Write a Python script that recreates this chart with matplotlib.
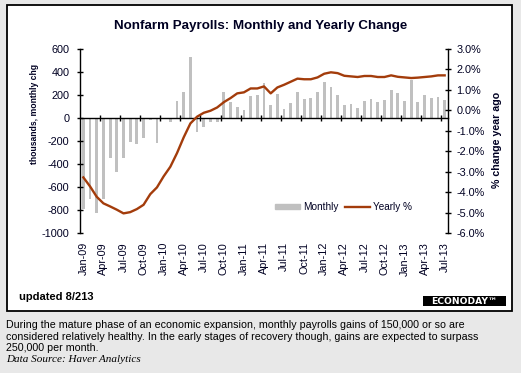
"""
Nonfarm payrolls: monthly change (bars) and yearly % change (line).
"""

import numpy as np
import matplotlib
matplotlib.use("Agg")
import matplotlib.pyplot as plt
from matplotlib.patches import Rectangle, Patch
from matplotlib.lines import Line2D
from matplotlib.ticker import FuncFormatter

plt.rcParams['font.family'] = ['Liberation Sans', 'DejaVu Sans']
plt.rcParams['axes.unicode_minus'] = False

# monthly change, thousands (Jan-09 .. Jul-13)
monthly = [-790, -700, -830, -700, -350, -470, -350, -210, -230, -170, -20, -220,
           -10, -35, 150, 229, 528, -125, -81, -38, -38, 229, 142, 99,
           73, 194, 203, 304, 116, 212, 81, 133, 229, 168, 177, 229,
           316, 273, 203, 116, 125, 90, 151, 168, 142, 160, 247, 220,
           151, 333, 142, 203, 174, 186, 160]

# % change year ago
yearly = [-3.28, -3.72, -4.23, -4.55, -4.70, -4.86, -5.04, -4.98, -4.83, -4.62, -4.10, -3.77,
          -3.23, -2.76, -2.09, -1.32, -0.64, -0.31, -0.12, -0.02, 0.14, 0.40, 0.60, 0.83,
          0.88, 1.07, 1.07, 1.17, 0.83, 1.12, 1.25, 1.40, 1.55, 1.52, 1.52, 1.61,
          1.79, 1.86, 1.82, 1.69, 1.66, 1.63, 1.68, 1.68, 1.63, 1.63, 1.71, 1.64,
          1.61, 1.58, 1.60, 1.63, 1.66, 1.71, 1.71]

tick_labels = ['Jan-09', 'Apr-09', 'Jul-09', 'Oct-09', 'Jan-10', 'Apr-10', 'Jul-10',
               'Oct-10', 'Jan-11', 'Apr-11', 'Jul-11', 'Oct-11', 'Jan-12', 'Apr-12',
               'Jul-12', 'Oct-12', 'Jan-13', 'Apr-13', 'Jul-13']

footnote = ["During the mature phase of an economic expansion, monthly payrolls gains of 150,000 or so are",
            "considered relatively healthy. In the early stages of recovery though, gains are expected to surpass",
            "250,000 per month."]

bar_color = '#c0c0c0'
line_color = '#a33c0b'
txt = '#000022'
W, H = 521, 373

fig = plt.figure(figsize=(W / 100, H / 100), dpi=100, facecolor='#e8e8e8')

# white chart panel with black frame
fig.add_artist(Rectangle((7 / W, 62 / H), 505 / W, 306 / H, transform=fig.transFigure,
                         facecolor='white', edgecolor='black', lw=1.3, zorder=-1))

ax = fig.add_axes([80 / W, 140 / H, 368 / W, 184 / H])
ax.set_facecolor('none')
x = np.arange(len(monthly))
ax.bar(x, monthly, width=0.42, color=bar_color, zorder=1)
ax.set_xlim(-0.5, len(monthly) - 0.5)
ax.set_ylim(-1000, 600)
ax.set_yticks(range(-1000, 601, 200))
for s in ['top', 'bottom', 'right']:
    ax.spines[s].set_visible(False)
ax.spines['left'].set_linewidth(1)
ax.set_xticks(x[::3], tick_labels, rotation=90)
ax.tick_params(axis='x', length=0, pad=6.5, labelsize=7.8, labelcolor=txt)
ax.tick_params(axis='y', direction='inout', length=4.8, width=1, pad=5.3,
               labelsize=7.8, labelcolor=txt)
ax.set_ylabel('thousands, monthly chg', fontweight='bold', fontsize=6.2, color=txt,
              family=['Liberation Sans Narrow', 'Liberation Sans'])
ax.yaxis.set_label_coords(-0.112, 0.647)

# zero line with quarter ticks
zero = ax.secondary_xaxis(1000 / 1600)
zero.set_xticks(np.arange(2.5, len(monthly) - 1, 3))
zero.tick_params(direction='inout', length=4.8, width=1, labeltop=False, labelbottom=False)
zero.spines['top'].set_linewidth(1)
zero.set_zorder(3)

ax2 = ax.twinx()
ax2.plot(x, yearly, color=line_color, lw=1.7, solid_joinstyle='round')
ax2.set_ylim(-6, 3)
ax2.set_yticks(np.arange(-6, 3.01, 1))
ax2.yaxis.set_major_formatter(FuncFormatter(lambda v, p: f'{v:.1f}%'))
for s in ['top', 'bottom', 'left']:
    ax2.spines[s].set_visible(False)
ax2.spines['right'].set_linewidth(1)
ax2.tick_params(axis='y', direction='inout', length=4.8, width=1, pad=3.8,
                labelsize=7.8, labelcolor=txt)
ax2.set_ylabel('% change year ago', fontweight='bold', fontsize=7.7, color=txt)
ax2.yaxis.set_label_coords(1.119, 0.505)

handles = [Patch(color=bar_color), Line2D([], [], color=line_color, lw=1.7)]
ax2.legend(handles, ['Monthly', 'Yearly %'], ncol=2, frameon=False, loc='center left',
           bbox_to_anchor=(0.530, 0.141), fontsize=7.2, labelcolor=txt,
           handlelength=2.5, handleheight=0.5, handletextpad=0.3, columnspacing=0.7,
           borderpad=0, borderaxespad=0)

fig.text(261 / W, 1 - 26 / H, 'Nonfarm Payrolls: Monthly and Yearly Change',
         ha='center', va='center', fontsize=9.6, fontweight='bold', color=txt)
fig.text(19 / W, 1 - 297 / H, 'updated 8/213', ha='left', va='center',
         fontsize=8, fontweight='bold', color='black')

# logo block
fig.add_artist(Rectangle((423 / W, 1 - 305.5 / H), 83 / W, 10 / H, transform=fig.transFigure,
                         facecolor='black', edgecolor='none', zorder=2))
fig.text(464.5 / W, 1 - 303.7 / H, 'ECONODAY\u2122', ha='center', va='baseline',
         fontsize=6.6, fontweight='bold', color='white', family=['DejaVu Sans'], zorder=4)

for i, line in enumerate(footnote):
    fig.text(6 / W, 1 - (325 + 11.7 * i) / H, line, ha='left', va='center',
             fontsize=7.7, color='black')
fig.text(6 / W, 1 - 359 / H, 'Data Source: Haver Analytics', ha='left', va='center',
         fontsize=8, style='italic', family=['Liberation Serif'], color='black')

fig.savefig('out.png', dpi=100, facecolor=fig.get_facecolor())
